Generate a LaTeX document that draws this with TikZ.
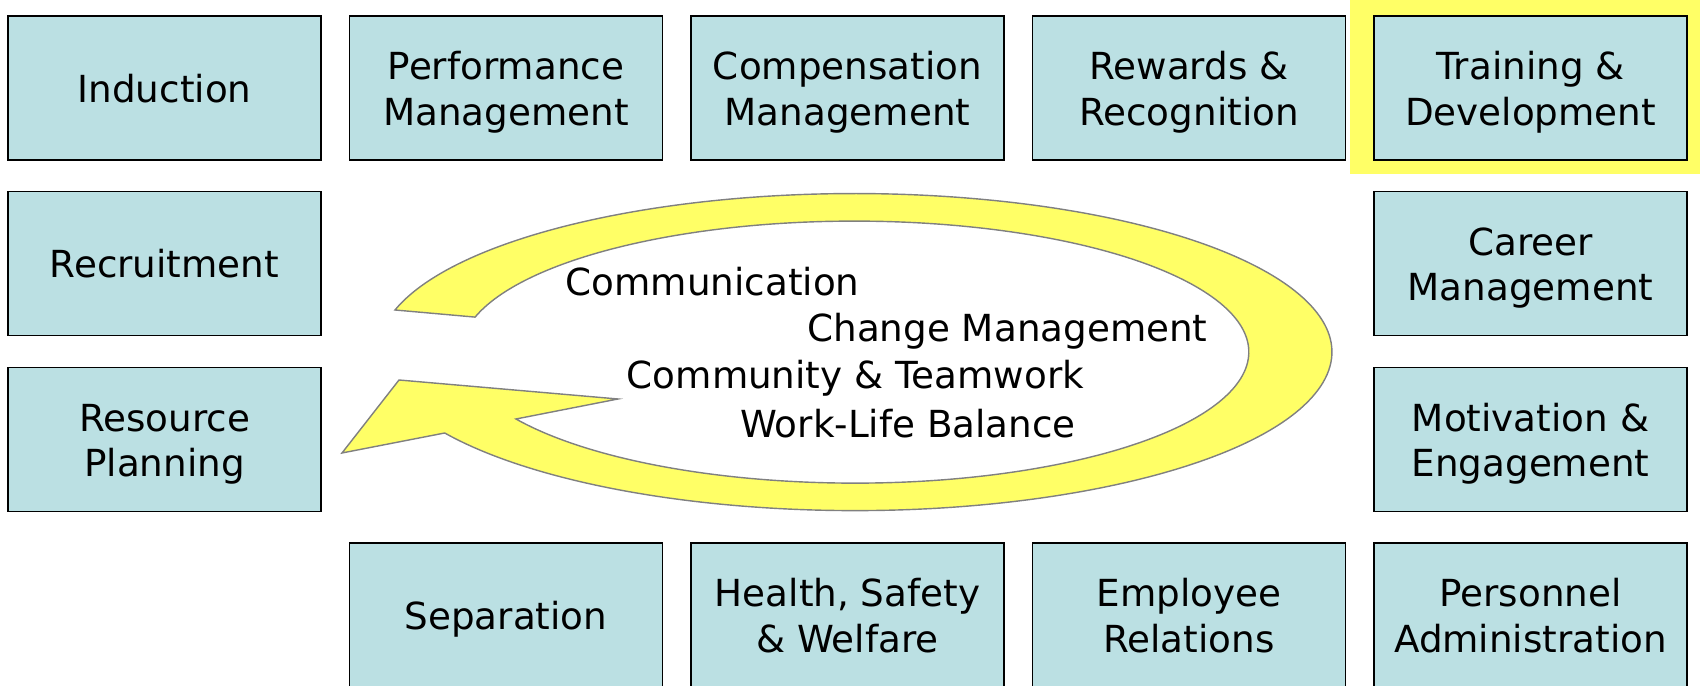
\documentclass[tikz,border=0pt]{standalone}
\usepackage{fontspec}
\setmainfont{DejaVu Sans}
\definecolor{boxblue}{RGB}{187,224,227}
\definecolor{hiyellow}{RGB}{255,255,102}
\definecolor{arrowgray}{RGB}{128,128,128}

\begin{document}
\begin{tikzpicture}[x=0.01cm,y=-0.01cm,
	hrbox/.style={draw=black,line width=0.5pt,fill=boxblue,minimum width=3.13cm,minimum height=1.44cm,inner sep=0pt,align=center,text height=10.4pt,text depth=2.2pt,font=\fontsize{10.6}{12.9}\selectfont},
	twolines/.style={text height=23.3pt},
	theme/.style={anchor=base,inner sep=0pt,font=\fontsize{10.6}{12.9}\selectfont}]
	\useasboundingbox (0,0) rectangle (1700,686);
	% highlight
	\fill[hiyellow] (1350,0) rectangle (1700,174);
	% top row
	\node[hrbox] (induction) at (164.5,88) {Induction};
	\node[hrbox,twolines] (perform) at (506,88) {Performance\\Management};
	\node[hrbox,twolines] (compens) at (847.5,88) {Compensation\\Management};
	\node[hrbox,twolines] (rewards) at (1189,88) {Rewards \&\\Recognition};
	\node[hrbox,twolines] (training) at (1530.5,88) {Training \&\\Development};
	% sides
	\node[hrbox] (recruit) at (164.5,263.5) {Recruitment};
	\node[hrbox,twolines] (resource) at (164.5,439.5) {Resource\\Planning};
	\node[hrbox,twolines] (career) at (1530.5,263.5) {Career\\Management};
	\node[hrbox,twolines] (motivation) at (1530.5,439.5) {Motivation \&\\Engagement};
	% bottom row
	\node[hrbox] (separation) at (506,615) {Separation};
	\node[hrbox,twolines] (health) at (847.5,615) {Health, Safety\\\& Welfare};
	\node[hrbox,twolines] (relations) at (1189,615) {Employee\\Relations};
	\node[hrbox,twolines] (personnel) at (1530.5,615) {Personnel\\Administration};
	% cycle arrow
	\draw[draw=arrowgray,line width=0.4pt,fill=hiyellow]
		(395,310) arc[start angle=195.4,end angle=509.3,x radius=477,y radius=158.5]
		-- (342,453) -- (399,380) -- (618,399) -- (516,419)
		arc[start angle=149.3,end angle=-164.5,x radius=394,y radius=131] -- cycle;
	% themes inside
	\node[theme] (comm) at (712.5,295.5) {Communication};
	\node[theme] (change) at (1007.5,342) {Change Management};
	\node[theme] (community) at (855.5,388.5) {Community \& Teamwork};
	\node[theme] (worklife) at (908,437.5) {Work-Life Balance};
\end{tikzpicture}
\end{document}
